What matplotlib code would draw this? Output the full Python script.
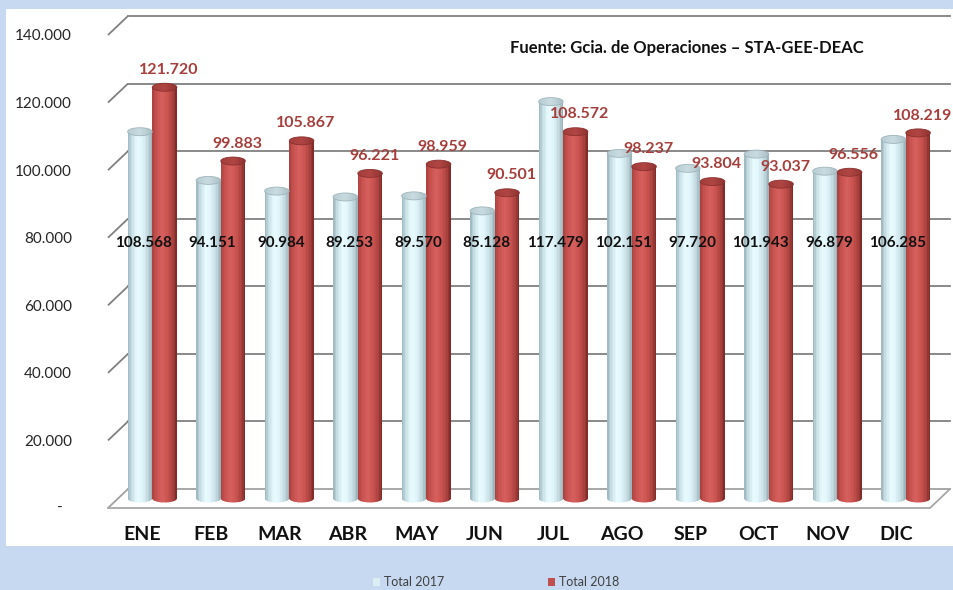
import numpy as np
import matplotlib
matplotlib.use('Agg')
import matplotlib.pyplot as plt
from matplotlib.patches import Ellipse, Rectangle, Patch
from matplotlib.transforms import blended_transform_factory
from matplotlib.colors import to_rgb

# ---------------- data ----------------
months = ['ENE', 'FEB', 'MAR', 'ABR', 'MAY', 'JUN', 'JUL', 'AGO', 'SEP', 'OCT', 'NOV', 'DIC']
total_2017 = [108568, 94151, 90984, 89253, 89570, 85128, 117479, 102151, 97720, 101943, 96879, 106285]
total_2018 = [121720, 99883, 105867, 96221, 98959, 90501, 108572, 98237, 93804, 93037, 96556, 108219]
series_names = ['Total 2017', 'Total 2018']
y_ticks = [0, 20000, 40000, 60000, 80000, 100000, 120000, 140000]
source_text = 'Fuente: Gcia. de Operaciones \u2013 STA-GEE-DEAC'


def fmt(v):
    return f'{v:,.0f}'.replace(',', '.')


plt.rcParams['font.family'] = ['Lato', 'DejaVu Sans']

W, H = 954, 590
fig = plt.figure(figsize=(W / 100, H / 100), dpi=100)
fig.patch.set_facecolor('#c6d9f1')
fig.add_artist(Rectangle((6 / W, (H - 546) / H), 948 / W, (546 - 9) / H,
                         transform=fig.transFigure, facecolor='white',
                         edgecolor='none', zorder=-5))

# axes geometry (pixels): front plane
ax_left, ax_right, ax_bottom, ax_top = 108, 930, 508, 35
ax = fig.add_axes([ax_left / W, (H - ax_bottom) / H, (ax_right - ax_left) / W,
                   (ax_bottom - ax_top) / H])
ax.patch.set_visible(False)
n = len(months)
ymax = 140000
ax.set_xlim(-0.5, n - 0.5)
ax.set_ylim(0, ymax)
for s in ax.spines.values():
    s.set_visible(False)

px_x = n / (ax_right - ax_left)          # data units per pixel (x)
px_y = ymax / (ax_bottom - ax_top)       # data units per pixel (y)
depth_dx, depth_dy = 20 * px_x, 19 * px_y  # back-plane offset
mid_dx, mid_dy = depth_dx / 2, depth_dy / 2

# ---------------- gridlines / walls ----------------
grid_c = '#808080'
for v in y_ticks:
    col = '#a0a0a0' if v == 0 else grid_c
    ax.plot([-0.5, -0.5 + depth_dx], [v, v + depth_dy], color=col, lw=1.3,
            clip_on=False, zorder=1, solid_capstyle='butt')
    ax.plot([-0.5 + depth_dx, n - 0.5 + depth_dx], [v + depth_dy, v + depth_dy],
            color=col, lw=1.3, clip_on=False, zorder=1)
# floor front edge and right edge
ax.plot([-0.5, n - 0.5, n - 0.5 + depth_dx], [0, 0, depth_dy], color='#a6a6a6',
        lw=1.3, clip_on=False, zorder=2)

# ---------------- cylinders ----------------
bw = 0.36
ell_h = 8 * px_y
nstrip = 16

prof17 = [(0.0, '#98b3bb'), (0.15, '#c3dbe1'), (0.38, '#e8fbff'), (0.6, '#e0f5fa'),
          (0.85, '#bcd3d9'), (1.0, '#93acb4')]
prof18 = [(0.0, '#a9413e'), (0.18, '#c8524f'), (0.4, '#d55f5c'), (0.62, '#cb5451'),
          (0.85, '#a6403d'), (1.0, '#7a2725')]
top17 = [(0.0, '#b7ccd2'), (0.5, '#c8dbe0'), (1.0, '#aac0c6')]
top18 = [(0.0, '#a23d3a'), (0.5, '#b04542'), (1.0, '#8e3331')]


def interp_colors(prof, m):
    pos = np.array([p for p, _ in prof])
    cols = np.array([to_rgb(c) for _, c in prof])
    t = (np.arange(m) + 0.5) / m
    return [tuple(np.interp(tt, pos, cols[:, k]) for k in range(3)) for tt in t]


c17 = interp_colors(prof17, nstrip)
c18 = interp_colors(prof18, nstrip)
t17 = interp_colors(top17, nstrip)
t18 = interp_colors(top18, nstrip)


def cylinder(xc, v, side_cols, top_cols, edge):
    x0 = xc - bw / 2 + mid_dx
    base = mid_dy
    sw = bw / nstrip
    xs = x0 + sw * (np.arange(nstrip) + 0.5)
    # body
    ax.bar(xs, [v] * nstrip, width=sw * 1.02, bottom=base, color=side_cols,
           edgecolor='none', zorder=3, clip_on=False)
    # bottom half-ellipse
    bot = Ellipse((x0 + bw / 2, base), bw, ell_h, transform=ax.transData)
    bars = ax.bar(xs, [ell_h / 2] * nstrip, width=sw * 1.02, bottom=base - ell_h / 2,
                  color=side_cols, edgecolor='none', zorder=3)
    for b in bars:
        b.set_clip_path(bot)
    # top ellipse
    top = Ellipse((x0 + bw / 2, base + v), bw, ell_h, transform=ax.transData)
    bars = ax.bar(xs, [ell_h] * nstrip, width=sw * 1.02, bottom=base + v - ell_h / 2,
                  color=top_cols, edgecolor='none', zorder=4)
    for b in bars:
        b.set_clip_path(top)
    ax.add_patch(Ellipse((x0 + bw / 2, base + v), bw, ell_h, facecolor='none',
                         edgecolor=edge, lw=0.6, zorder=4.5, clip_on=False))


for i in range(n):
    cylinder(i - bw / 2, total_2017[i], c17, t17, '#9fb5bb')
    cylinder(i + bw / 2, total_2018[i], c18, t18, '#8a302e')

# ---------------- value labels ----------------
for i in range(n):
    ax.text(i - bw / 2 + 14 * px_x, 78400, fmt(total_2017[i]), ha='center',
            va='center', fontsize=11, fontweight='bold', color='#111111', zorder=6)
    ax.annotate(fmt(total_2018[i]), xy=(i + bw / 2 + mid_dx, total_2018[i] + mid_dy),
                xytext=(3, 12.5), textcoords='offset points', ha='center',
                va='center', fontsize=11.5, fontweight='bold', color='#a63f3c',
                zorder=6, annotation_clip=False)

# ---------------- axes labels ----------------
ax.set_yticks(y_ticks, ['' if v == 0 else fmt(v) for v in y_ticks])
ax.tick_params(axis='y', length=0, pad=26, labelsize=11, labelcolor='#262626')
ax.text((60 - ax_left) / (ax_right - ax_left), 0, '-',
        transform=blended_transform_factory(ax.transAxes, ax.transData),
        ha='center', va='center', fontsize=11, color='#262626')
ax.set_xticks(range(n), months)
ax.tick_params(axis='x', length=0, pad=13, labelsize=14)
for lab in ax.get_xticklabels():
    lab.set_fontweight('bold')
    lab.set_color('#111111')

fig.text(687 / W, 1 - 48 / H, source_text, ha='center', va='center',
         fontsize=12, fontweight='bold', color='#111111')

handles = [Patch(facecolor='#dbeef3', edgecolor='none', label=series_names[0]),
           Patch(facecolor='#c0504d', edgecolor='none', label=series_names[1])]
fig.legend(handles=handles, loc='center', bbox_to_anchor=(496 / W, 8 / H), ncol=2,
           frameon=False, handlelength=0.6, handleheight=0.6, handletextpad=0.3,
           columnspacing=8.3, fontsize=9, labelcolor='#404040')

fig.savefig('out.png', dpi=100, facecolor=fig.get_facecolor())
